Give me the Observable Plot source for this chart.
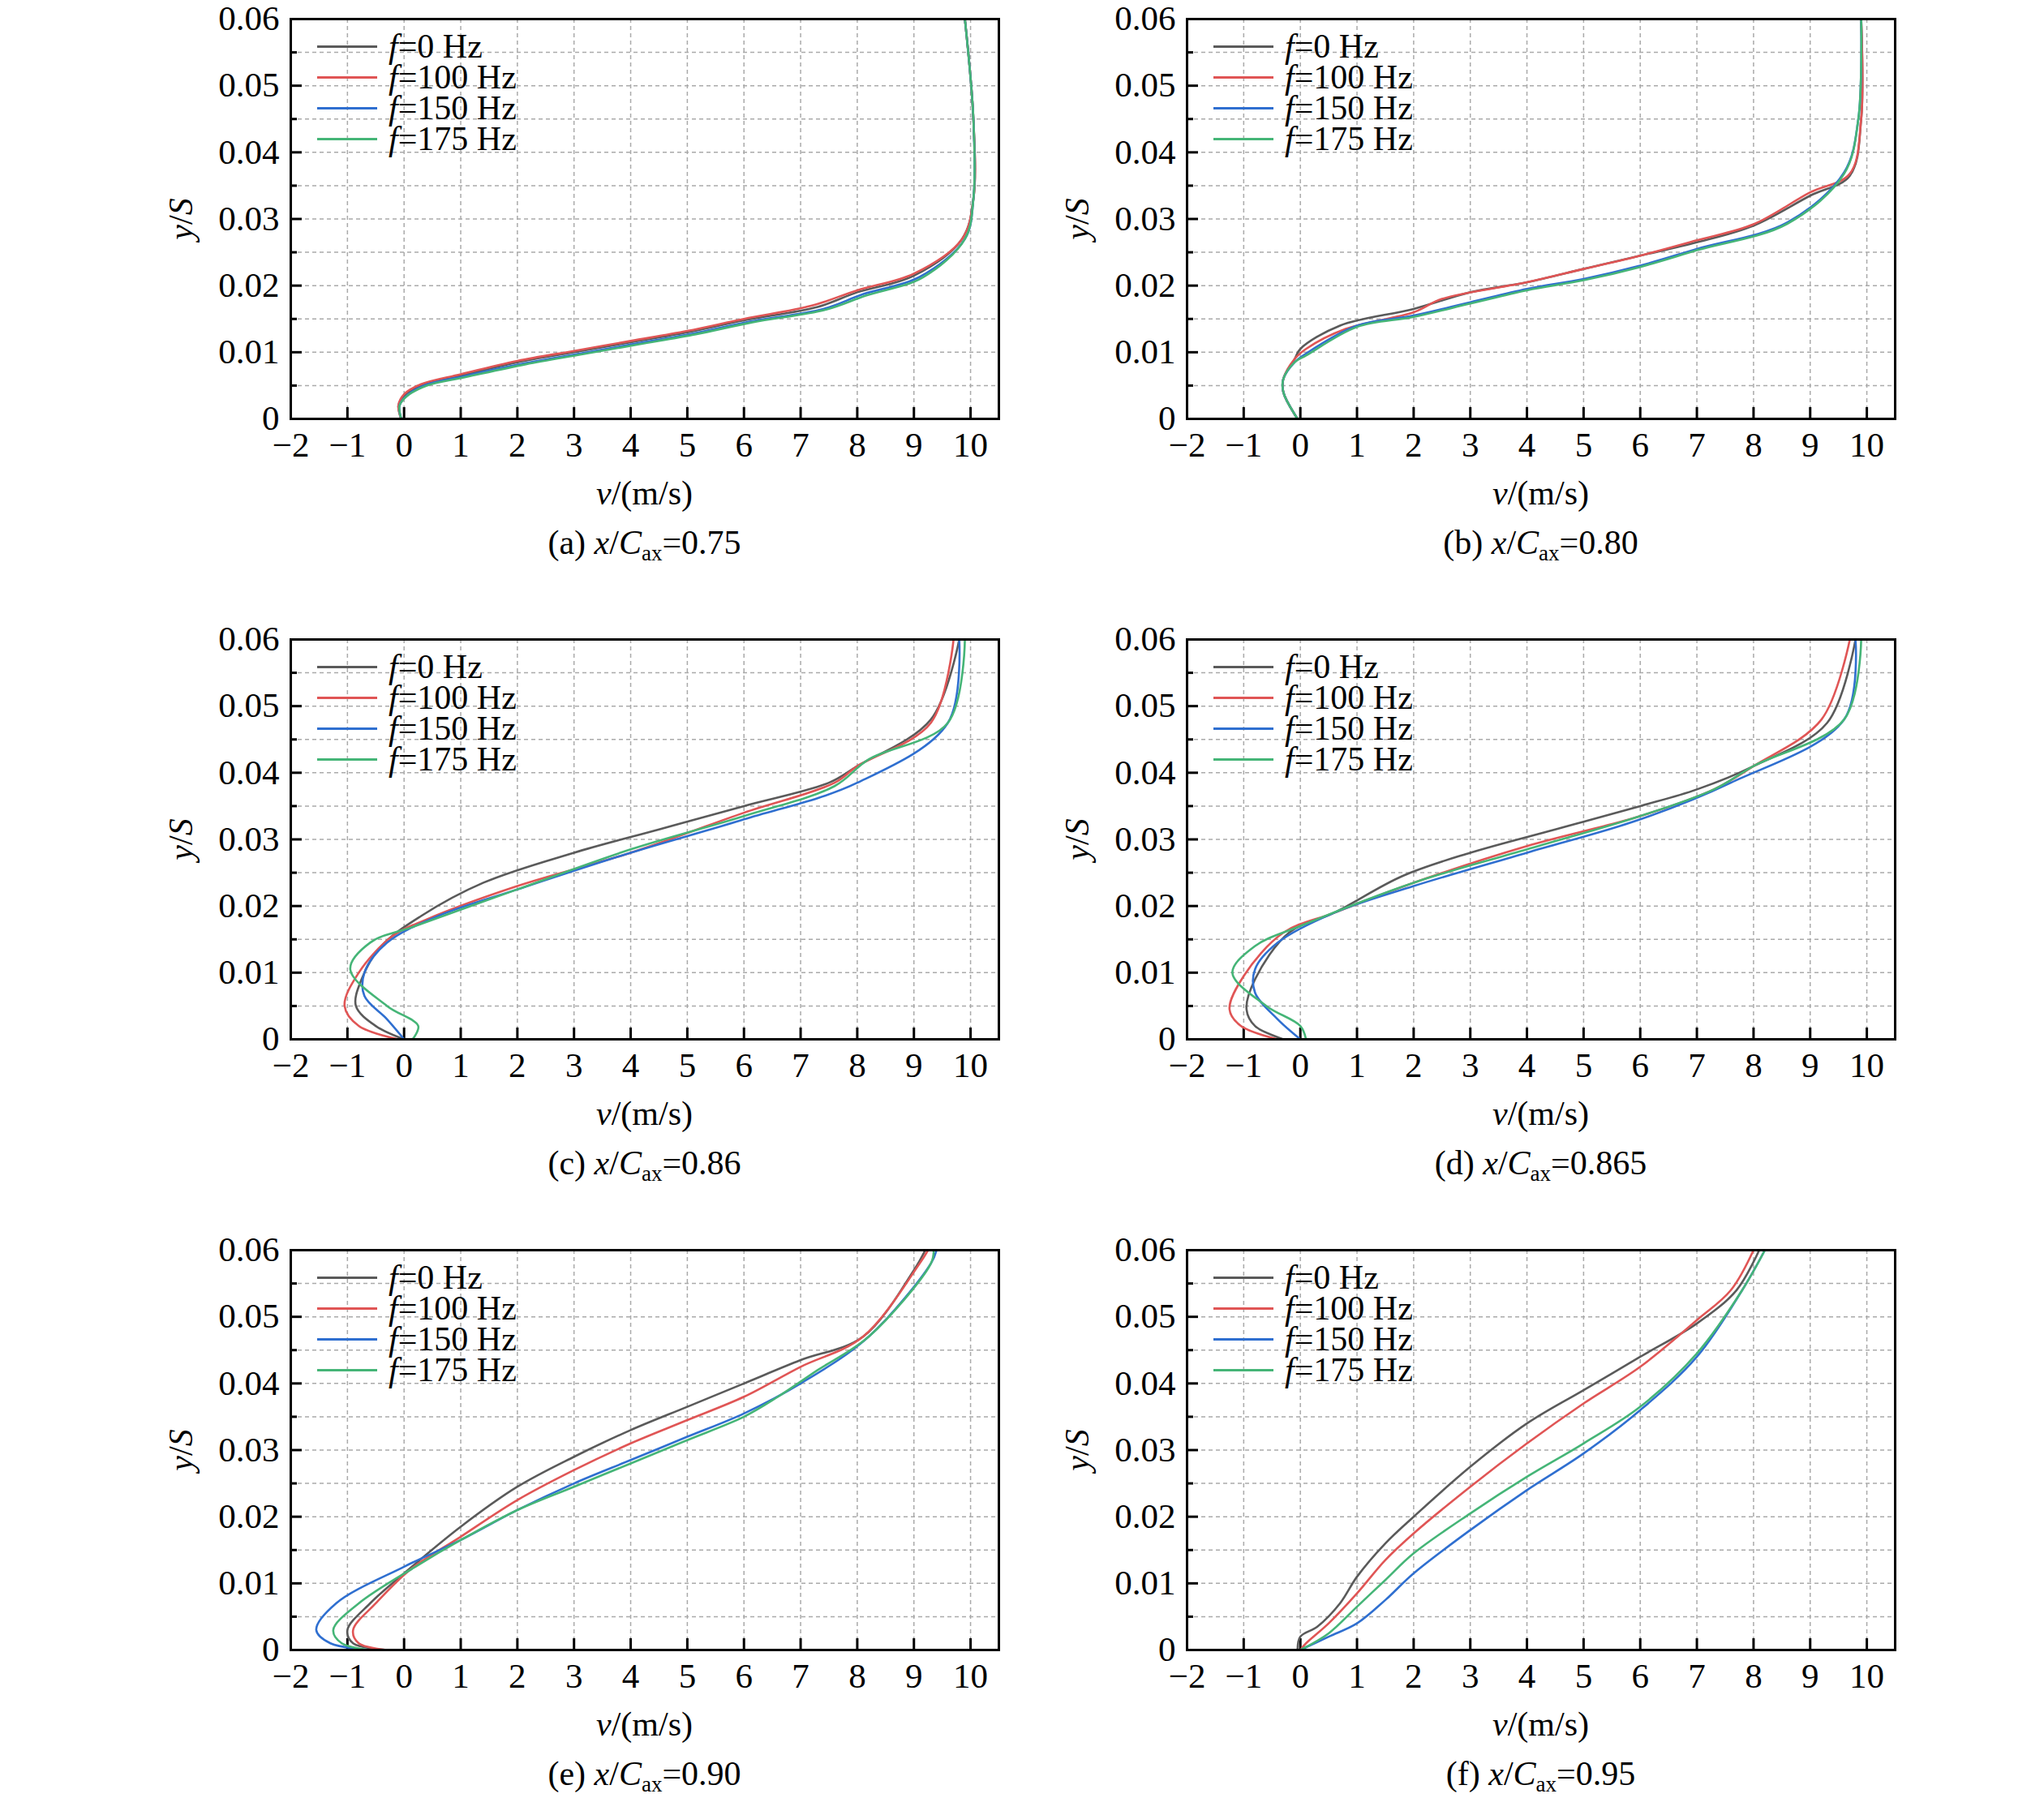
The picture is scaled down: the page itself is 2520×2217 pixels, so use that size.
<!DOCTYPE html>
<html><head><meta charset="utf-8">
<script src="https://cdn.jsdelivr.net/npm/d3@7"></script>
<script src="https://cdn.jsdelivr.net/npm/@observablehq/plot@0.6"></script>
<style>
body{margin:0;background:#fff;width:2520px;height:2217px;position:relative;font-family:"Liberation Serif","Times New Roman",serif;}
.svgwrap{position:absolute;}
.lab{position:absolute;font-size:42px;white-space:nowrap;color:#000;}
.ylab{transform:translate(-50%,-50%) rotate(-90deg);}
.xlab{transform:translate(-50%,-50%);}
.leg{position:absolute;font-size:42px;line-height:38px;}
.leg div{display:flex;align-items:center;height:38px;}
.leg span.sw{display:inline-block;width:74px;height:3px;margin-right:14px;}
sub{font-size:27px;vertical-align:-8px;}
</style></head><body>
<script>
const series = ["f=0 Hz","f=100 Hz","f=150 Hz","f=175 Hz"];
const colors = ["#5a5a5a","#e05555","#2f6fd0","#45b577"];
const captions = ["(a)","(b)","(c)","(d)","(e)","(f)"];
const stations = ["0.75","0.80","0.86","0.865","0.90","0.95"];
const xTicks = [-2,-1,0,1,2,3,4,5,6,7,8,9,10];
const yTicks = [0,0.01,0.02,0.03,0.04,0.05,0.06];
const yMinor = [0.005,0.015,0.025,0.035,0.045,0.055];

// each curve: [v, y/S] pairs
const pa0=[[-0.05,0],[-0.1,0.002],[0,0.0035],[0.3,0.005],[1,0.0065],[2,0.0085],[3,0.01],[4,0.0115],[5,0.013],[6,0.0148],[7.3,0.0168],[8,0.019],[9,0.0215],[9.85,0.027],[10.05,0.033],[10.05,0.045],[9.9,0.06]];
const pa1=[[-0.05,0],[-0.1,0.002],[0,0.0037],[0.3,0.0052],[1,0.0067],[2,0.0087],[3,0.0102],[4,0.0117],[5,0.0132],[6,0.015],[7.2,0.017],[8,0.0193],[9,0.0218],[9.85,0.027],[10.05,0.033],[10.05,0.045],[9.9,0.06]];
const pa2=[[-0.05,0],[-0.08,0.002],[0.05,0.0035],[0.35,0.005],[1.05,0.0064],[2.1,0.0083],[3.1,0.0098],[4.1,0.0113],[5.1,0.0128],[6.1,0.0146],[7.4,0.0165],[8.1,0.0187],[9.1,0.0213],[9.9,0.027],[10.05,0.033],[10.05,0.045],[9.9,0.06]];
const pa3=[[-0.05,0],[-0.08,0.002],[0.05,0.0034],[0.4,0.005],[1.1,0.0063],[2.15,0.0082],[3.15,0.0097],[4.15,0.0112],[5.15,0.0127],[6.15,0.0145],[7.45,0.0164],[8.15,0.0185],[9.15,0.0212],[9.9,0.027],[10.05,0.033],[10.05,0.045],[9.9,0.06]];
const pb0=[[-0.05,0],[-0.3,0.004],[-0.3,0.006],[-0.1,0.009],[0,0.0105],[0.7,0.014],[2,0.0165],[3,0.019],[4,0.0205],[5,0.0225],[6,0.0245],[7,0.0265],[8,0.029],[9,0.0335],[9.7,0.0365],[9.9,0.045],[9.9,0.06]];
const pb1=[[-0.05,0],[-0.3,0.004],[-0.3,0.006],[-0.1,0.009],[0.1,0.0105],[0.8,0.0135],[2,0.016],[2.5,0.018],[4,0.0205],[5,0.0225],[6,0.0245],[7,0.0268],[8,0.0292],[9,0.034],[9.7,0.0368],[9.9,0.045],[9.9,0.06]];
const pb2=[[-0.05,0],[-0.3,0.004],[-0.3,0.006],[-0.1,0.0085],[0.1,0.0098],[1,0.014],[2,0.0155],[3,0.0175],[4,0.0195],[5,0.021],[6,0.023],[7,0.0255],[8.6,0.0295],[9.6,0.037],[9.85,0.045],[9.9,0.06]];
const pb3=[[-0.05,0],[-0.3,0.004],[-0.3,0.006],[-0.1,0.0085],[0.1,0.0095],[1,0.0138],[2,0.0153],[3,0.0173],[4,0.0193],[5,0.0208],[6,0.0228],[7,0.0253],[8.6,0.0293],[9.6,0.0368],[9.85,0.045],[9.9,0.06]];
const pc0=[[0,0],[-0.5,0.002],[-0.85,0.005],[-0.75,0.009],[-0.4,0.014],[0.3,0.0185],[1.4,0.0235],[3,0.028],[4.5,0.0315],[6,0.035],[7.5,0.0385],[8,0.041],[9.3,0.048],[9.8,0.06]];
const pc1=[[-0.1,0],[-0.8,0.002],[-1.05,0.005],[-0.8,0.01],[-0.2,0.0155],[0.4,0.018],[2,0.023],[4,0.028],[6,0.034],[7.6,0.0385],[8,0.041],[9.3,0.0475],[9.7,0.06]];
const pc2=[[0,0],[-0.3,0.003],[-0.7,0.0065],[-0.7,0.01],[-0.3,0.0145],[0.6,0.0185],[2,0.0225],[4,0.028],[6,0.033],[8,0.0385],[9.6,0.0475],[9.8,0.06]];
const pc3=[[0.15,0],[0.25,0.002],[-0.3,0.005],[-0.95,0.0105],[-0.6,0.0145],[0.2,0.017],[2,0.0225],[4,0.0285],[6,0.0335],[7.6,0.038],[8.2,0.042],[9.6,0.0475],[9.9,0.06]];
const pd0=[[-0.3,0],[-0.8,0.002],[-0.95,0.0045],[-0.8,0.009],[-0.2,0.016],[0.6,0.019],[1.8,0.0245],[3,0.028],[4.5,0.0315],[6,0.035],[7,0.0375],[8,0.041],[9.3,0.0475],[9.8,0.06]];
const pd1=[[-0.4,0],[-1.05,0.002],[-1.25,0.0045],[-1,0.0095],[-0.3,0.016],[0.6,0.019],[2,0.0235],[4,0.029],[6,0.0335],[7.3,0.0375],[8,0.041],[9.2,0.048],[9.7,0.06]];
const pd2=[[0,0],[-0.4,0.003],[-0.8,0.007],[-0.8,0.0105],[-0.4,0.0145],[0.6,0.019],[2,0.023],[4,0.028],[6,0.033],[7.6,0.0385],[9.6,0.048],[9.8,0.06]];
const pd3=[[0.1,0],[0,0.002],[-0.6,0.005],[-1.2,0.01],[-0.8,0.014],[0,0.017],[2,0.0235],[4,0.0285],[6,0.0335],[7.3,0.0375],[8,0.041],[9.6,0.048],[9.9,0.06]];
const pe0=[[-0.3,0],[-0.9,0.001],[-1,0.003],[-0.6,0.007],[0,0.0115],[1,0.0185],[2,0.0245],[3,0.029],[4,0.033],[5,0.0365],[6,0.04],[7,0.0435],[8.1,0.047],[9,0.057],[9.2,0.06]];
const pe1=[[-0.3,0],[-0.8,0.001],[-0.9,0.003],[-0.5,0.007],[0.1,0.012],[1,0.017],[2,0.0225],[3,0.027],[4,0.031],[5,0.0345],[6,0.038],[7,0.0425],[8.1,0.047],[9.1,0.058],[9.25,0.06]];
const pe2=[[-0.6,0],[-1.3,0.001],[-1.55,0.003],[-1.2,0.007],[0,0.0125],[1,0.0165],[2,0.021],[3,0.025],[4,0.0285],[5,0.032],[6,0.0355],[7,0.04],[8.2,0.047],[9.3,0.058],[9.4,0.06]];
const pe3=[[-0.6,0],[-1.1,0.001],[-1.25,0.003],[-0.8,0.007],[0.2,0.0125],[1,0.0165],[2,0.021],[3,0.0245],[4,0.028],[5,0.0315],[6,0.035],[6.6,0.038],[7.3,0.042],[8.2,0.047],[9.3,0.058],[9.35,0.06]];
const pf0=[[-0.05,0],[0,0.002],[0.3,0.0035],[0.7,0.007],[1,0.011],[1.5,0.016],[2,0.02],[3,0.0275],[4,0.034],[5,0.039],[6,0.044],[7,0.049],[7.7,0.054],[8.1,0.06]];
const pf1=[[0,0],[0.1,0.001],[0.5,0.004],[1,0.0085],[1.5,0.0135],[2,0.0175],[3,0.0245],[4,0.031],[5,0.037],[6,0.0425],[7,0.0495],[7.6,0.054],[8,0.06]];
const pf2=[[0,0],[0.5,0.002],[1,0.004],[1.5,0.0075],[2,0.0115],[3,0.018],[4,0.024],[5,0.0295],[6,0.036],[7,0.044],[7.8,0.054],[8.2,0.06]];
const pf3=[[0,0],[0.5,0.0025],[1,0.0065],[1.5,0.0105],[2,0.0145],[3,0.0205],[4,0.026],[5,0.031],[6,0.0365],[7,0.0445],[7.8,0.054],[8.2,0.06]];
const panels=[[pa0,pa1,pa2,pa3],[pb0,pb1,pb2,pb3],[pc0,pc1,pc2,pc3],[pd0,pd1,pd2,pd3],[pe0,pe1,pe2,pe3],[pf0,pf1,pf2,pf3]];

const colLeft=[358,1463], rowTop=[23,788,1541], FW=873, FH=493;
const ML=200, MR=30, MT=25, MB=80;
const font='"Liberation Serif", "Times New Roman", serif';

panels.forEach((curves,i)=>{
  const c=i%2, r=Math.floor(i/2);
  const fl=colLeft[c], ft=rowTop[r];
  const rows=[];
  curves.forEach((pts,k)=>pts.forEach((p,j)=>rows.push({s:series[k],v:p[0],y:p[1],k,j})));
  const plot=Plot.plot({
    width:FW+ML+MR, height:FH+MT+MB, marginLeft:ML, marginRight:MR, marginTop:MT, marginBottom:MB,
    style:{fontFamily:font,fontSize:"43px",color:"#000",background:"transparent"},
    x:{domain:[-2,10.5]}, y:{domain:[0,0.06]},
    color:{domain:series,range:colors},
    marks:[
      Plot.gridX(xTicks,{stroke:"#aaa",strokeOpacity:1,strokeDasharray:"5,4",strokeWidth:1.5}),
      Plot.gridY(yTicks.concat(yMinor),{stroke:"#aaa",strokeOpacity:1,strokeDasharray:"5,4",strokeWidth:1.5}),
      Plot.axisX(xTicks,{tickSize:-14,strokeWidth:3,tickFormat:()=>"",label:null}),
      Plot.axisX(xTicks,{tickSize:0,tickPadding:16,label:null,fontSize:43,fontFamily:font,tickFormat:d=>d<0?"\u2212"+(-d):String(d)}),
      Plot.axisY(yTicks,{tickSize:-14,strokeWidth:3,tickFormat:()=>"",label:null}),
      Plot.axisY(yMinor,{tickSize:-8,strokeWidth:3,tickFormat:()=>"",label:null}),
      Plot.axisY(yTicks,{tickSize:0,tickPadding:14,label:null,fontSize:43,fontFamily:font,tickFormat:d=>d===0?"0":d.toFixed(2)}),
      Plot.line(rows,{x:"v",y:"y",z:"s",stroke:"s",strokeWidth:2.6,curve:"catmull-rom"}),
      Plot.frame({stroke:"#000",strokeWidth:3})
    ]
  });
  const w=document.createElement("div"); w.className="svgwrap";
  w.style.left=(fl-ML)+"px"; w.style.top=(ft-MT)+"px"; w.appendChild(plot);
  document.body.appendChild(w);
  const cx=fl+FW/2;
  const yl=document.createElement("div"); yl.className="lab ylab";
  yl.style.left=(fl-135)+"px"; yl.style.top=(ft+FH/2)+"px"; yl.innerHTML="<i>y</i>/<i>S</i>";
  document.body.appendChild(yl);
  const xl=document.createElement("div"); xl.className="lab xlab";
  xl.style.left=cx+"px"; xl.style.top=(ft+585)+"px"; xl.innerHTML="<i>v</i>/(m/s)";
  document.body.appendChild(xl);
  const cp=document.createElement("div"); cp.className="lab xlab";
  cp.style.left=cx+"px"; cp.style.top=(ft+648)+"px";
  cp.innerHTML=captions[i]+" <i>x</i>/<i>C</i><sub>ax</sub>="+stations[i];
  document.body.appendChild(cp);
  const lg=document.createElement("div"); lg.className="leg";
  lg.style.left=(fl+33)+"px"; lg.style.top=(ft+15)+"px";
  lg.innerHTML=series.map((s,k)=>`<div><span class="sw" style="background:${colors[k]}"></span><i>f</i>${s.slice(1)}</div>`).join("");
  document.body.appendChild(lg);
});
</script>
</body></html>
